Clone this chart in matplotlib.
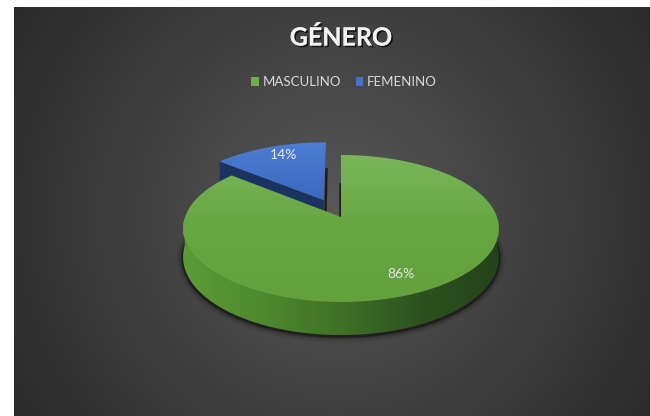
import numpy as np
import matplotlib.pyplot as plt
import matplotlib.patheffects as pe
from matplotlib.patches import Polygon, Patch
from matplotlib.colors import LinearSegmentedColormap

# data
labels = ["MASCULINO", "FEMENINO"]
shares = [86, 14]
pct_labels = ["86%", "14%"]
explode = [0.0, 0.27]
colors = ["#70ad47", "#4472c4"]

# fake 3d pie geometry (pixel units)
cx, cy0 = 341, 217
A, B, K, D0 = 156, 71.7, 0.1565, 27.8


def proj(X, Z, h=0.0):
    s = 1 + K * np.asarray(Z)
    return cx + A * np.asarray(X) / s, cy0 + (-B * np.asarray(Z) + h * D0) / s


def grad_fill(ax, xs, ys, cmap, horizontal, z):
    patch = Polygon(np.column_stack([xs, ys]), closed=True, facecolor="none",
                    edgecolor="none", zorder=z)
    ax.add_patch(patch)
    g = np.linspace(0, 1, 256)
    img = g[None, :] if horizontal else g[:, None]
    im = ax.imshow(img, cmap=cmap, aspect="auto", origin="upper", zorder=z,
                   extent=(min(xs) - 1, max(xs) + 1, max(ys) + 1, min(ys) - 1),
                   interpolation="bilinear")
    im.set_clip_path(patch)


fig = plt.figure(figsize=(6.5, 4.16), dpi=100)
fig.patch.set_facecolor("white")
ax = fig.add_axes([0, 0, 1, 1])
ax.set_axis_off()

# dark radial background panel
yy, xx = np.mgrid[7:416, 14:650]
dist = np.sqrt((xx - 335) ** 2 + (yy - 215) ** 2) / 390
v = (0x58 - (0x58 - 0x29) * np.clip(dist, 0, 1)) / 255
ax.imshow(np.dstack([v, v, v]), extent=(14, 650, 416, 7), aspect="auto", zorder=0)

# slices
edges = 90 - 360 * np.concatenate([[0], np.cumsum(shares) / sum(shares)])
slices = []
for i in range(len(shares)):
    t0, t1 = np.radians(edges[i]), np.radians(edges[i + 1])
    mid = (t0 + t1) / 2
    ox, oz = explode[i] * np.cos(mid), explode[i] * np.sin(mid)
    slices.append((np.sin(mid), i, t0, t1, mid, ox, oz))
slices.sort(reverse=True)  # back slices first

wall_cmaps = [
    LinearSegmentedColormap.from_list("gw", ["#5c9c36", "#4f8a2e", "#3f7126", "#2d521e", "#24421a"]),
    LinearSegmentedColormap.from_list("bw", ["#2f5597", "#1f3864"]),
]
top_cmaps = [
    LinearSegmentedColormap.from_list("gt", ["#7ab65a", "#66a640", "#62a13b"]),
    LinearSegmentedColormap.from_list("bt", ["#4d7ed2", "#3b68c0"]),
]
face_cols = ["#2e4f1f", "#1b3360"]

# soft shadow under the pie
th = np.radians(np.linspace(172, 368, 200))
sx, sy = proj(np.cos(th), np.sin(th), 1.0)
for lw, al in [(9, 0.06), (6, 0.1), (3.5, 0.18), (1.8, 0.35)]:
    ax.plot(sx, sy + 1.5, color="black", lw=lw, alpha=al, zorder=1,
            solid_capstyle="round")

z = 2
for _, i, t0, t1, mid, ox, oz in slices:
    th = np.linspace(t0, t1, 300)
    rx, rz = ox + np.cos(th), oz + np.sin(th)
    # outer wall (front facing part)
    m = np.sin(th) < 0
    if m.any():
        x0, y0 = proj(rx[m], rz[m], 0)
        x1, y1 = proj(rx[m], rz[m], 1)
        grad_fill(ax, np.r_[x0, x1[::-1]], np.r_[y0, y1[::-1]], wall_cmaps[i], True, z)
        z += 1
    # cut faces
    for te, sgn in [(t0, 1), (t1, -1)]:
        nx, nz = -sgn * np.sin(te), sgn * np.cos(te)
        ex, ez = ox + np.cos(te), oz + np.sin(te)
        if nz < -1e-3:
            px, py = proj([ox, ex, ex, ox], [oz, ez, ez, oz], np.array([0, 0, 1, 1]))
            ax.add_patch(Polygon(np.column_stack([px, py]), closed=True,
                                 facecolor=face_cols[i], edgecolor="none", zorder=z))
        elif abs(nz) < 1e-3:
            lx, ly = proj([ox + 0.5 * np.cos(te), ox], [oz + 0.5 * np.sin(te), oz],
                          np.array([0, 1]))
            ax.plot(lx + 1.5 * np.sign(nx), ly, color="#1e1e1e", lw=1.8, zorder=z)
        z += 1
    # top face
    tx, ty = proj(np.r_[ox, rx], np.r_[oz, rz], 0)
    grad_fill(ax, tx, ty, top_cmaps[i], False, z)
    z += 1

# percentage labels
for _, i, t0, t1, mid, ox, oz in slices:
    lx, ly = proj(ox + 0.8 * np.cos(mid), oz + 0.8 * np.sin(mid))
    ax.text(lx + (4 if i == 1 else 0), ly - 2, pct_labels[i], color="#e6e6e6",
            fontsize=10, family="Lato", ha="center", va="center", zorder=50)

# title
ax.text(341, 38, "GÉNERO", color="#f2f2f2", fontsize=18, family="Lato",
        fontweight="bold", ha="center", va="center", zorder=50,
        path_effects=[pe.withSimplePatchShadow(offset=(1.2, -1.2), shadow_rgbFace="black",
                                               alpha=0.7), pe.Normal()])

ax.set_xlim(0, 650)
ax.set_ylim(416, 0)

handles = [Patch(facecolor=c, edgecolor="none") for c in colors]
fig.legend(handles, labels, loc="center", bbox_to_anchor=(344 / 650, 1 - 82 / 416),
           ncol=2, frameon=False, fontsize=9.5, labelcolor="#d9d9d9",
           handlelength=0.6, handleheight=0.6, handletextpad=0.25, columnspacing=1.1,
           prop={"family": "Lato", "size": 9.5})

fig.savefig("out.png", dpi=100)
